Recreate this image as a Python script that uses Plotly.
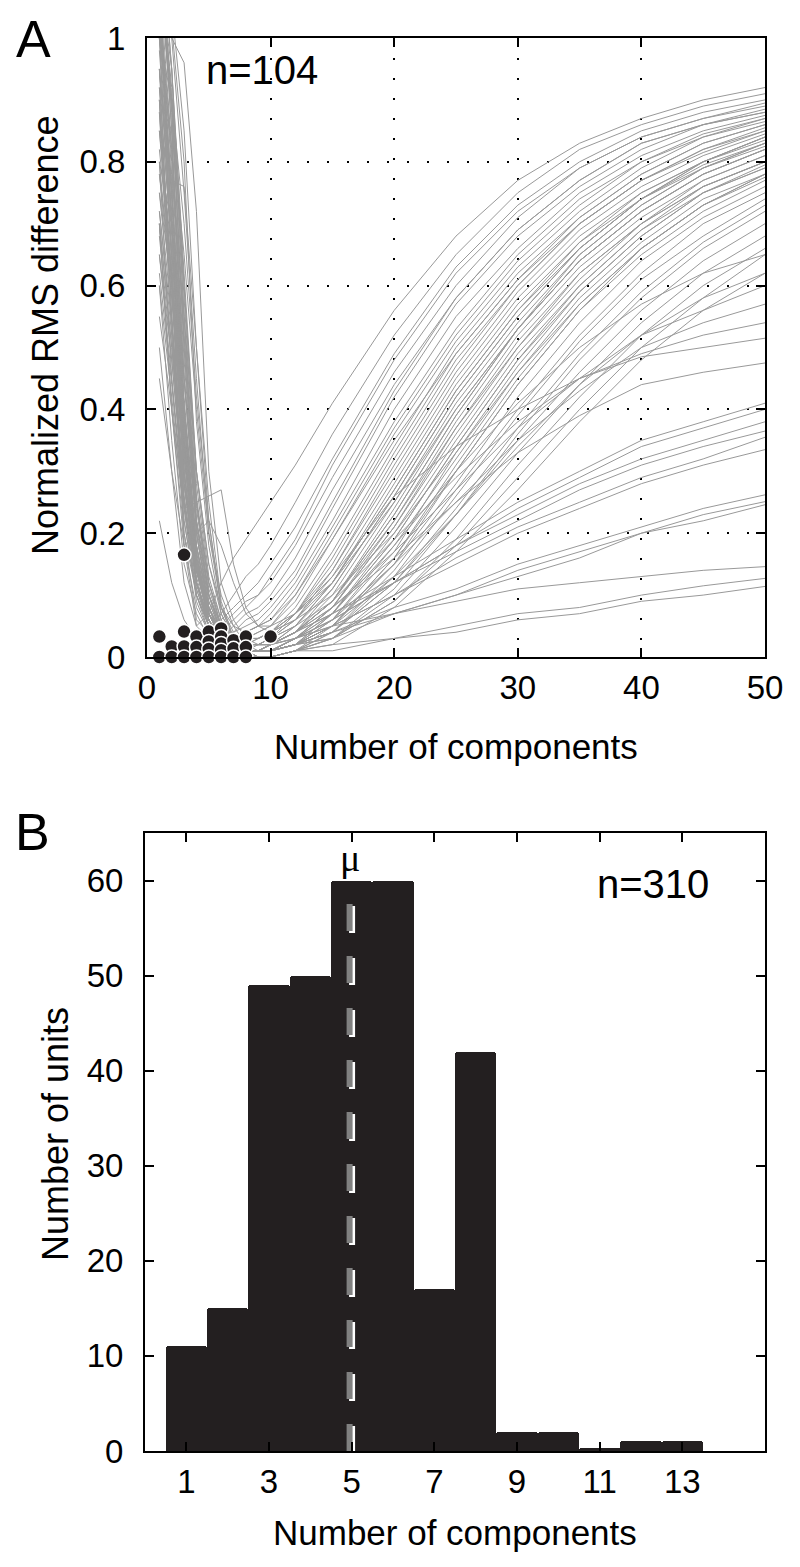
import plotly.graph_objects as go

# ---------------- Panel A data ----------------
x_components = [1, 2, 3, 4, 5, 6, 7, 8, 9, 10, 12, 15, 20, 25, 30, 35, 40, 45, 50]

curves_upper = [
    [1.10,0.62,0.18,0.05,0.07,0.12,0.16,0.19,0.22,0.25,0.31,0.41,0.56,0.68,0.77,0.83,0.87,0.90,0.92],
    [0.95,0.55,0.20,0.06,0.04,0.07,0.10,0.13,0.15,0.18,0.25,0.36,0.52,0.65,0.75,0.82,0.86,0.89,0.91],
    [1.15,0.85,0.40,0.12,0.05,0.06,0.08,0.10,0.12,0.15,0.21,0.32,0.49,0.63,0.73,0.80,0.85,0.88,0.90],
    [0.80,0.45,0.22,0.10,0.04,0.05,0.07,0.09,0.10,0.12,0.18,0.29,0.46,0.60,0.71,0.79,0.84,0.87,0.89],
    [1.05,0.70,0.30,0.12,0.06,0.03,0.05,0.07,0.08,0.10,0.16,0.27,0.44,0.58,0.69,0.77,0.83,0.86,0.885],
    [0.90,0.60,0.35,0.16,0.07,0.04,0.04,0.05,0.06,0.08,0.13,0.24,0.42,0.57,0.68,0.76,0.82,0.86,0.88],
    [1.20,0.95,0.55,0.20,0.08,0.03,0.03,0.04,0.05,0.07,0.12,0.22,0.40,0.55,0.66,0.75,0.81,0.85,0.875],
    [0.70,0.40,0.18,0.08,0.04,0.02,0.03,0.04,0.05,0.06,0.11,0.21,0.38,0.53,0.65,0.74,0.80,0.84,0.87],
    [1.00,0.90,0.70,0.42,0.22,0.08,0.03,0.03,0.04,0.05,0.09,0.19,0.36,0.51,0.63,0.72,0.79,0.84,0.865],
    [0.60,0.35,0.15,0.07,0.03,0.02,0.02,0.03,0.03,0.04,0.08,0.17,0.34,0.50,0.62,0.71,0.78,0.83,0.86],
    [1.10,0.90,0.60,0.30,0.15,0.08,0.05,0.04,0.05,0.06,0.10,0.19,0.35,0.49,0.61,0.70,0.77,0.82,0.855],
    [0.85,0.65,0.40,0.18,0.08,0.04,0.02,0.02,0.02,0.03,0.07,0.15,0.32,0.48,0.60,0.70,0.77,0.82,0.85],
    [0.50,0.30,0.12,0.05,0.03,0.02,0.02,0.03,0.03,0.04,0.07,0.14,0.30,0.46,0.59,0.69,0.76,0.81,0.845],
    [1.25,1.05,0.85,0.50,0.25,0.09,0.03,0.02,0.02,0.03,0.06,0.13,0.29,0.45,0.58,0.68,0.75,0.80,0.84],
    [0.95,0.75,0.45,0.22,0.10,0.05,0.02,0.01,0.01,0.02,0.05,0.12,0.28,0.44,0.57,0.67,0.74,0.80,0.835],
    [0.75,0.55,0.30,0.12,0.06,0.03,0.02,0.02,0.02,0.03,0.05,0.11,0.26,0.42,0.55,0.66,0.74,0.79,0.83],
    [1.10,0.70,0.35,0.15,0.07,0.04,0.02,0.01,0.01,0.02,0.04,0.10,0.25,0.41,0.54,0.65,0.73,0.79,0.825],
    [0.90,0.85,0.65,0.40,0.20,0.10,0.05,0.02,0.01,0.02,0.04,0.09,0.24,0.40,0.53,0.64,0.72,0.78,0.82],
    [0.65,0.45,0.25,0.12,0.06,0.03,0.01,0.01,0.01,0.01,0.03,0.08,0.22,0.38,0.52,0.63,0.71,0.77,0.81],
    [1.15,0.90,0.50,0.22,0.10,0.05,0.03,0.02,0.02,0.02,0.03,0.08,0.21,0.37,0.50,0.62,0.70,0.76,0.80],
    [1.00,0.65,0.28,0.12,0.06,0.03,0.01,0.01,0.01,0.01,0.02,0.07,0.20,0.35,0.49,0.60,0.69,0.75,0.795],
    [0.80,0.70,0.45,0.25,0.12,0.06,0.03,0.01,0.01,0.01,0.03,0.07,0.19,0.34,0.48,0.59,0.68,0.75,0.79],
    [1.20,1.00,0.75,0.45,0.20,0.08,0.03,0.01,0.01,0.01,0.02,0.06,0.18,0.32,0.46,0.58,0.67,0.74,0.78],
    [0.55,0.40,0.20,0.10,0.05,0.02,0.01,0.01,0.01,0.01,0.02,0.05,0.16,0.31,0.45,0.57,0.66,0.73,0.775],
    [1.05,0.80,0.42,0.18,0.08,0.04,0.02,0.01,0.00,0.00,0.01,0.05,0.15,0.30,0.44,0.56,0.65,0.72,0.77],
    [0.90,0.60,0.32,0.16,0.08,0.04,0.02,0.01,0.01,0.01,0.02,0.05,0.15,0.28,0.42,0.54,0.64,0.71,0.76],
    [1.10,0.95,0.62,0.30,0.13,0.06,0.02,0.01,0.00,0.00,0.01,0.04,0.14,0.27,0.40,0.52,0.62,0.70,0.75],
    [0.70,0.50,0.28,0.14,0.07,0.04,0.02,0.01,0.01,0.01,0.02,0.04,0.13,0.26,0.39,0.51,0.61,0.68,0.74],
    [1.00,0.72,0.38,0.16,0.07,0.03,0.01,0.00,0.00,0.00,0.01,0.04,0.12,0.24,0.37,0.49,0.59,0.67,0.73],
    [0.85,0.78,0.55,0.30,0.15,0.07,0.03,0.01,0.00,0.00,0.01,0.03,0.11,0.23,0.36,0.48,0.58,0.66,0.72],
    [0.60,0.42,0.22,0.10,0.05,0.03,0.02,0.01,0.01,0.01,0.02,0.04,0.12,0.23,0.35,0.46,0.56,0.64,0.70],
    [1.15,0.85,0.45,0.20,0.09,0.04,0.02,0.01,0.00,0.00,0.01,0.03,0.10,0.21,0.33,0.44,0.54,0.62,0.68],
    [0.95,0.68,0.36,0.15,0.06,0.03,0.01,0.00,0.00,0.00,0.01,0.03,0.09,0.19,0.31,0.42,0.52,0.60,0.66],
    [0.75,0.60,0.40,0.22,0.10,0.05,0.02,0.01,0.01,0.01,0.02,0.03,0.09,0.18,0.29,0.40,0.50,0.58,0.65],
    [1.05,0.75,0.40,0.17,0.07,0.03,0.01,0.00,0.00,0.00,0.01,0.02,0.08,0.17,0.27,0.38,0.48,0.56,0.62],
    [1.08,0.78,0.33,0.11,0.05,0.04,0.06,0.08,0.10,0.13,0.19,0.31,0.48,0.62,0.72,0.79,0.84,0.87,0.895],
    [0.88,0.52,0.24,0.09,0.04,0.03,0.04,0.06,0.07,0.09,0.14,0.25,0.43,0.58,0.69,0.77,0.83,0.86,0.88],
    [1.12,0.92,0.58,0.26,0.11,0.05,0.03,0.03,0.04,0.05,0.10,0.20,0.37,0.52,0.64,0.73,0.80,0.845,0.87],
    [0.78,0.58,0.34,0.14,0.06,0.03,0.02,0.02,0.03,0.04,0.07,0.16,0.33,0.49,0.61,0.71,0.78,0.83,0.86],
    [1.02,0.74,0.38,0.16,0.07,0.03,0.02,0.02,0.02,0.03,0.06,0.14,0.31,0.47,0.60,0.70,0.77,0.815,0.85],
    [0.68,0.48,0.26,0.12,0.05,0.02,0.01,0.01,0.02,0.02,0.05,0.12,0.27,0.43,0.56,0.67,0.75,0.80,0.84],
    [1.18,1.02,0.80,0.38,0.18,0.07,0.03,0.02,0.02,0.02,0.04,0.11,0.26,0.42,0.55,0.66,0.74,0.795,0.83],
    [0.92,0.66,0.34,0.14,0.06,0.03,0.01,0.01,0.01,0.02,0.04,0.09,0.23,0.39,0.53,0.64,0.72,0.78,0.82],
    [1.06,0.82,0.48,0.21,0.09,0.04,0.02,0.01,0.01,0.01,0.03,0.08,0.21,0.36,0.50,0.61,0.70,0.77,0.81],
    [0.82,0.62,0.38,0.18,0.08,0.04,0.02,0.01,0.01,0.01,0.02,0.07,0.19,0.34,0.48,0.60,0.69,0.76,0.80],
    [1.14,0.88,0.52,0.24,0.10,0.04,0.02,0.01,0.01,0.01,0.02,0.06,0.17,0.33,0.47,0.59,0.68,0.75,0.79],
    [0.72,0.54,0.30,0.14,0.06,0.03,0.01,0.01,0.01,0.01,0.02,0.05,0.16,0.30,0.44,0.56,0.66,0.73,0.78],
]

curves_middle = [
    [0.90,0.55,0.25,0.10,0.05,0.02,0.01,0.01,0.01,0.02,0.04,0.08,0.17,0.27,0.37,0.45,0.52,0.56,0.60],
    [1.10,0.88,0.50,0.22,0.10,0.04,0.02,0.01,0.01,0.01,0.03,0.06,0.15,0.25,0.35,0.43,0.50,0.54,0.57],
    [0.65,0.48,0.26,0.12,0.06,0.03,0.02,0.02,0.02,0.03,0.05,0.09,0.19,0.29,0.38,0.45,0.49,0.52,0.54],
    [0.95,0.70,0.35,0.15,0.07,0.03,0.02,0.02,0.03,0.04,0.07,0.13,0.26,0.34,0.40,0.45,0.485,0.50,0.515],
    [1.00,0.82,0.52,0.25,0.12,0.05,0.02,0.01,0.01,0.02,0.04,0.08,0.16,0.25,0.33,0.39,0.44,0.46,0.475],
    [0.78,0.62,0.36,0.16,0.07,0.03,0.01,0.01,0.01,0.01,0.02,0.05,0.13,0.23,0.34,0.44,0.52,0.58,0.62],
    [1.20,0.95,0.60,0.28,0.12,0.05,0.02,0.01,0.01,0.01,0.03,0.07,0.18,0.30,0.41,0.50,0.57,0.62,0.65],
]

curves_lower = [
    [0.85,0.60,0.30,0.12,0.05,0.02,0.01,0.01,0.01,0.02,0.04,0.07,0.13,0.19,0.25,0.30,0.35,0.38,0.41],
    [1.05,0.75,0.40,0.18,0.08,0.03,0.01,0.01,0.01,0.02,0.03,0.06,0.12,0.18,0.24,0.29,0.34,0.37,0.40],
    [0.70,0.50,0.28,0.14,0.07,0.03,0.01,0.01,0.01,0.01,0.03,0.06,0.12,0.18,0.23,0.28,0.32,0.35,0.38],
    [1.15,0.90,0.55,0.25,0.10,0.04,0.02,0.02,0.02,0.02,0.04,0.07,0.12,0.17,0.22,0.27,0.31,0.34,0.365],
    [0.92,0.66,0.34,0.15,0.06,0.02,0.01,0.01,0.01,0.01,0.02,0.05,0.10,0.16,0.21,0.25,0.29,0.32,0.355],
    [0.62,0.44,0.24,0.11,0.05,0.02,0.01,0.01,0.01,0.01,0.03,0.05,0.10,0.15,0.20,0.24,0.28,0.31,0.335],
    [0.98,0.70,0.36,0.15,0.06,0.02,0.01,0.01,0.01,0.01,0.02,0.04,0.08,0.11,0.15,0.18,0.21,0.24,0.262],
    [0.80,0.58,0.30,0.13,0.05,0.02,0.01,0.01,0.01,0.01,0.02,0.04,0.07,0.10,0.14,0.17,0.20,0.23,0.251],
    [1.10,0.82,0.45,0.20,0.08,0.03,0.01,0.01,0.01,0.01,0.02,0.03,0.07,0.10,0.13,0.16,0.20,0.22,0.246],
]

curves_lowest = [
    [0.88,0.62,0.32,0.14,0.06,0.03,0.02,0.02,0.02,0.02,0.03,0.05,0.07,0.09,0.11,0.12,0.13,0.14,0.146],
    [0.72,0.52,0.28,0.12,0.05,0.02,0.01,0.00,0.00,0.00,0.01,0.02,0.03,0.05,0.07,0.08,0.10,0.115,0.127],
    [1.02,0.76,0.40,0.17,0.07,0.03,0.01,0.00,0.00,0.00,0.01,0.01,0.03,0.04,0.06,0.07,0.09,0.10,0.114],
]

curves_outlier = [
    [1.10,1.00,0.96,0.72,0.30,0.12,0.06,0.03,0.02,0.02,0.04,0.09,0.22,0.37,0.51,0.62,0.70,0.76,0.80],
    [0.85,0.77,0.76,0.50,0.22,0.08,0.04,0.02,0.02,0.02,0.04,0.09,0.23,0.39,0.53,0.65,0.73,0.79,0.83],
    [0.70,0.40,0.24,0.25,0.26,0.27,0.15,0.08,0.05,0.04,0.06,0.12,0.27,0.43,0.56,0.66,0.74,0.80,0.84],
    [0.45,0.30,0.18,0.20,0.22,0.18,0.12,0.07,0.05,0.05,0.07,0.12,0.25,0.40,0.53,0.64,0.72,0.78,0.82],
    [0.22,0.12,0.06,0.03,0.02,0.02,0.02,0.03,0.03,0.04,0.06,0.10,0.20,0.33,0.46,0.57,0.66,0.73,0.78],
]

# chosen number of components (minimum) per unit
min_x = [1, 1, 2, 2, 3, 3, 3, 3, 4, 4, 4, 5, 5, 5, 5, 6, 6, 6, 6, 6, 7, 7, 7, 8, 8, 8, 10]
min_y = [0.033, 0.0, 0.017, 0.0, 0.165, 0.041, 0.017, 0.0, 0.033, 0.016, 0.0,
         0.041, 0.025, 0.013, 0.0, 0.046, 0.033, 0.022, 0.011, 0.0,
         0.027, 0.014, 0.0, 0.033, 0.016, 0.0, 0.033]

a_xticks = [0, 10, 20, 30, 40, 50]
a_yticks = [0, 0.2, 0.4, 0.6, 0.8, 1]
a_yticklabels = ["0", "0.2", "0.4", "0.6", "0.8", "1"]

# ---------------- Panel B data ----------------
hist_components = [1, 2, 3, 4, 5, 6, 7, 8, 9, 10, 11, 12, 13]
hist_units = [11, 15, 49, 50, 60, 60, 17, 42, 2, 2, 0.3, 1, 1]
mean_components = 4.95
b_xticks = [1, 3, 5, 7, 9, 11, 13]
b_yticks = [0, 10, 20, 30, 40, 50, 60]

# page body has an 8px margin; the figure is sized so page = 800 x 1567
OFF = 8
W, H = 800 - OFF, 1567 - OFF
FONT = "Liberation Sans, Arial, Helvetica, sans-serif"
LINE_GRAY = "#999999"
BAR_BLACK = "#231f20"


def fx(pix):
    return (pix - OFF) / W


def fy(pix):
    return 1 - (pix - OFF) / H


fig = go.Figure()

for group in (curves_upper, curves_middle, curves_lower, curves_lowest, curves_outlier):
    for c in group:
        fig.add_trace(go.Scatter(x=x_components, y=c, mode="lines",
                                 line=dict(color=LINE_GRAY, width=1),
                                 hoverinfo="skip", showlegend=False,
                                 xaxis="x", yaxis="y"))

fig.add_trace(go.Scatter(x=min_x, y=min_y, mode="markers",
                         marker=dict(size=14, color=BAR_BLACK,
                                     line=dict(color="white", width=1.5)),
                         cliponaxis=False, showlegend=False,
                         xaxis="x", yaxis="y"))

fig.add_trace(go.Bar(x=hist_components, y=hist_units, width=1.0,
                     marker=dict(color=BAR_BLACK, line=dict(width=0), cornerradius=3),
                     showlegend=False, xaxis="x2", yaxis="y2"))

top_mean = max(hist_units)
fig.add_trace(go.Scatter(x=[mean_components + 0.06, mean_components + 0.06],
                         y=[-0.2, top_mean - 0.2], mode="lines",
                         line=dict(color="white", width=6, dash="27px,25px"),
                         showlegend=False, xaxis="x2", yaxis="y2"))
fig.add_trace(go.Scatter(x=[mean_components, mean_components],
                         y=[0, top_mean], mode="lines",
                         line=dict(color="#808080", width=6, dash="27px,25px"),
                         showlegend=False, xaxis="x2", yaxis="y2"))

axis_common = dict(
    showline=True, linecolor="black", linewidth=2, mirror="ticks",
    ticks="inside", ticklen=9, tickwidth=1.5, tickcolor="black",
    zeroline=False, automargin=False,
    tickfont=dict(family=FONT, size=33, color="black"),
)

fig.update_layout(
    width=W, height=H,
    margin=dict(l=0, r=0, t=0, b=0, autoexpand=False),
    paper_bgcolor="white", plot_bgcolor="white",
    showlegend=False,
    bargap=0,
    xaxis=dict(domain=[fx(147), fx(765)], range=[0, 50], tickvals=a_xticks,
               anchor="y", showgrid=True, gridcolor="black", gridwidth=1.5,
               griddash="2px,18px", ticklabelstandoff=0, **axis_common),
    yaxis=dict(domain=[fy(657), fy(38)], range=[0, 1], tickvals=a_yticks,
               ticktext=a_yticklabels, anchor="x", showgrid=True, gridcolor="black",
               gridwidth=1.5, griddash="2px,18px", ticklabelstandoff=13, **axis_common),
    xaxis2=dict(domain=[fx(145), fx(765)], range=[0, 15], tickvals=b_xticks,
                anchor="y2", showgrid=False, ticklabelstandoff=0, **axis_common),
    yaxis2=dict(domain=[fy(1451), fy(833)], range=[0, 65], tickvals=b_yticks,
                anchor="x2", showgrid=False, ticklabelstandoff=13, **axis_common),
)


def label(text, xpix, ypix, size, angle=0, family=FONT):
    return dict(text=text, x=fx(xpix), y=fy(ypix), xref="paper", yref="paper",
                xanchor="center", yanchor="middle", textangle=angle,
                showarrow=False, font=dict(family=family, size=size, color="black"))


ann = [
    label("A", 33, 39, 52),
    label("B", 32, 832, 52),
    label("Normalized RMS difference", 45, 335, 36, -90),
    label("Number of components", 456, 746, 35),
    label("Number of units", 55, 1134, 36, -90),
    label("Number of components", 455, 1532, 35),
    dict(text="n=104", x=9.3, y=0.948, xref="x", yref="y", xanchor="center",
         yanchor="middle", showarrow=False,
         font=dict(family=FONT, size=40, color="black")),
    dict(text="n=310", x=12.3, y=59.6, xref="x2", yref="y2", xanchor="center",
         yanchor="middle", showarrow=False,
         font=dict(family=FONT, size=40, color="black")),
    dict(text="μ", x=mean_components, y=top_mean - 0.1, xref="x2", yref="y2",
         xanchor="center", yanchor="bottom", showarrow=False,
         font=dict(family="Liberation Serif, Times New Roman, serif", size=38, color="black")),
]
fig.update_layout(annotations=ann)

fig.write_html("out.html")
